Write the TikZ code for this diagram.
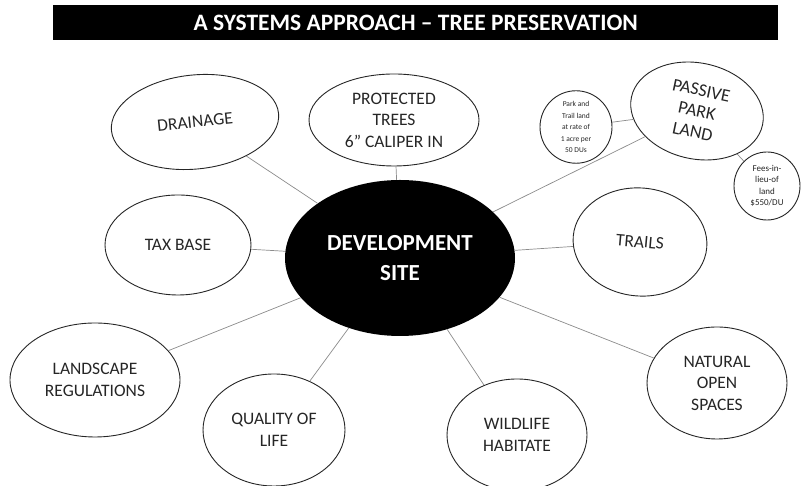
\documentclass[tikz,border=0pt]{standalone}
\usepackage{fontspec}
\setmainfont{Carlito}
\usetikzlibrary{shapes.geometric}
\begin{document}
\begin{tikzpicture}[x=1pt,y=1pt,
  bub/.style={ellipse,draw=black!85,line width=0.9pt,fill=white,inner sep=0pt,align=center,
    font=\fontsize{17.5}{21.5}\selectfont,text=black!85},
  small/.style={ellipse,draw=black!85,line width=0.9pt,fill=white,inner sep=0pt,align=center,
    text=black!85},
  link/.style={draw=black!45,line width=0.7pt}]
\useasboundingbox[fill=white] (0,0) rectangle (804,486);
\node[fill=black,minimum width=725pt,minimum height=35pt,inner sep=0pt,anchor=north west] (title) at (53,481) {};
\node[text=white,font=\bfseries\fontsize{23.5}{26}\selectfont] (titletext) at (title.center) {A SYSTEMS APPROACH – TREE PRESERVATION};

\node[ellipse,fill=black,minimum width=230pt,minimum height=156pt,inner sep=0pt,align=center,
  text=white,font=\bfseries\fontsize{23}{30}\selectfont] (dev) at (400,228) {DEVELOPMENT\\SITE};

\node[bub,minimum width=168pt,minimum height=94pt,rotate=6] (drain) at (195,364) {DRAINAGE};
\node[bub,minimum width=170pt,minimum height=92pt] (prot) at (394,366) {PROTECTED\\TREES\\6” CALIPER IN};
\node[bub,minimum width=146pt,minimum height=100pt] (tax) at (178,241) {TAX BASE};
\node[bub,minimum width=134pt,minimum height=96pt,rotate=-12,font=\fontsize{18}{21}\selectfont] (passive) at (697,375) {PASSIVE\\PARK\\LAND};
\node[small,minimum width=72pt,minimum height=60pt,font=\fontsize{7.5}{11.5}\selectfont] (parkrate) at (576,359) {Park and\\Trail land\\at rate of\\1 acre per\\50 DUs};
\node[small,minimum width=66pt,minimum height=68pt,font=\fontsize{9}{11.5}\selectfont] (fees) at (767,300) {Fees-in-\\lieu-of\\land\\\$550/DU};
\node[bub,minimum width=134pt,minimum height=108pt,rotate=-5] (trails) at (640,244) {TRAILS};
\node[bub,minimum width=170pt,minimum height=114pt] (land) at (95,106) {LANDSCAPE\\REGULATIONS};
\node[bub,minimum width=142pt,minimum height=112pt] (qual) at (274,56) {QUALITY OF\\LIFE};
\node[bub,minimum width=140pt,minimum height=112pt] (wild) at (517,51) {WILDLIFE\\HABITATE};
\node[bub,minimum width=140pt,minimum height=112pt] (nat) at (717,103) {NATURAL\\OPEN\\SPACES};

\draw[link] (drain) -- (dev);
\draw[link] (prot) -- (dev);
\draw[link] (tax) -- (dev);
\draw[link] (passive) -- (dev);
\draw[link] (parkrate) -- (passive);
\draw[link] (passive) -- (fees);
\draw[link] (trails) -- (dev);
\draw[link] (land) -- (dev);
\draw[link] (qual) -- (dev);
\draw[link] (wild) -- (dev);
\draw[link] (nat) -- (dev);
\end{tikzpicture}
\end{document}
